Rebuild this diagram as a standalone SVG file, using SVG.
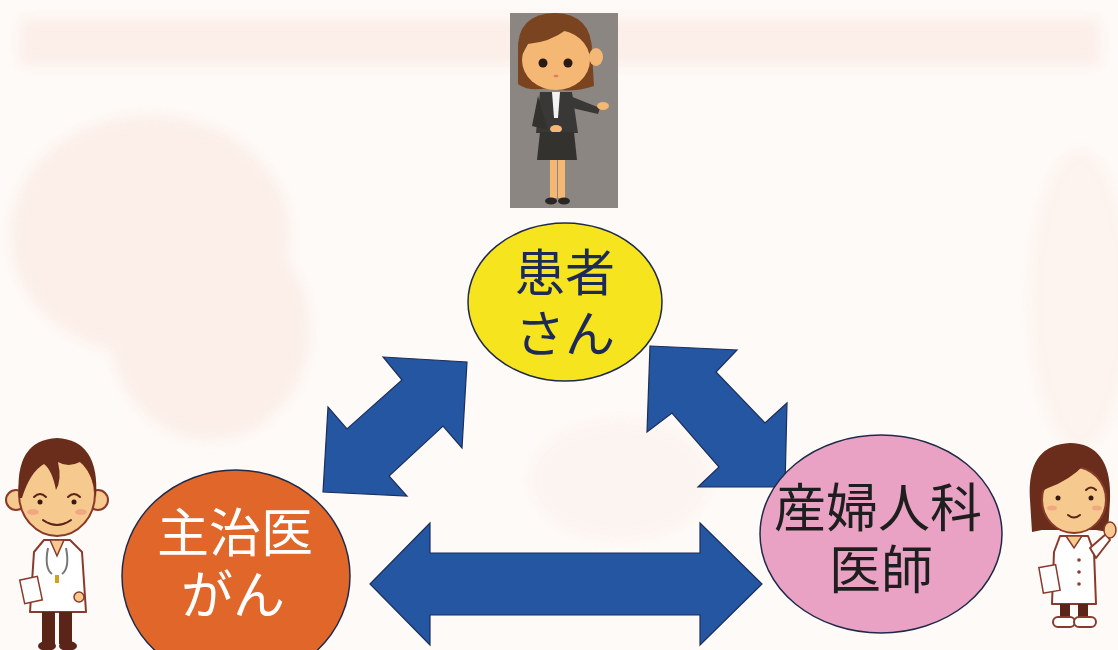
<svg xmlns="http://www.w3.org/2000/svg" width="1118" height="650" viewBox="0 0 1118 650">
  <defs>
    <style>
      .arrow { fill: #2456a2; stroke: #1b2f5c; stroke-width: 1.2; stroke-linejoin: miter; }
      .node-line { stroke: #1f2a4a; stroke-width: 1.5; }
      .label { font-family: "Noto Sans CJK JP", "Noto Sans CJK SC", sans-serif; font-size: 50px; text-anchor: middle; }
      .skin { fill: #f6c98e; }
      .hair { fill: #6a2d1c; }
      .outline { stroke: #5a2416; stroke-width: 2; fill: none; stroke-linecap: round; }
      .coat { fill: #ffffff; stroke: #8a3a2a; stroke-width: 2; stroke-linejoin: round; }
    </style>
    <filter id="haze" x="-20%" y="-20%" width="140%" height="140%">
      <feGaussianBlur stdDeviation="6"/>
    </filter>
  </defs>

  <!-- paper -->
  <rect x="0" y="0" width="1118" height="650" fill="#fefaf7"/>
  <g id="paper-tint" fill="#fbebe5" filter="url(#haze)" opacity="0.75">
    <rect x="20" y="18" width="1080" height="48" rx="6"/>
    <ellipse cx="150" cy="235" rx="140" ry="120"/>
    <ellipse cx="210" cy="330" rx="100" ry="110"/>
    <ellipse cx="1080" cy="300" rx="50" ry="150" opacity="0.6"/>
    <ellipse cx="620" cy="480" rx="90" ry="60" opacity="0.5"/>
  </g>

  <!-- presenter figure on grey panel -->
  <g id="presenter">
    <rect x="510" y="13" width="108" height="195" fill="#8b8682"/>
    <!-- hair back -->
    <path d="M518 52 Q516 14 555 13 Q592 14 592 52 L594 86 Q570 94 548 88 Q528 92 518 84 Z" fill="#7a4420"/>
    <ellipse cx="596" cy="57" rx="7" ry="9" fill="#f4b774"/>
    <ellipse cx="556" cy="60" rx="34" ry="30" fill="#f4b774"/>
    <path d="M522 55 Q524 20 556 18 Q588 20 592 48 Q580 35 566 30 Q550 42 528 44 Z" fill="#7a4420"/>
    <circle cx="543" cy="63" r="4.5" fill="#2a1a10"/>
    <circle cx="568" cy="63" r="4.5" fill="#2a1a10"/>
    <ellipse cx="556" cy="76" rx="2.5" ry="1.2" fill="#d98060"/>
    <!-- suit -->
    <path d="M540 92 L572 92 L578 133 L536 133 Z" fill="#3a3837"/>
    <path d="M552 92 L560 92 L558 118 L554 118 Z" fill="#f2f2f2"/>
    <path d="M570 96 L600 108 L598 114 L572 108 Z" fill="#3a3837"/>
    <ellipse cx="603" cy="106" rx="6" ry="4" fill="#f4b774"/>
    <path d="M538 96 L532 126 L548 130 Z" fill="#34322f"/>
    <ellipse cx="556" cy="129" rx="6" ry="4" fill="#f4b774"/>
    <path d="M540 132 L574 132 L577 160 L537 160 Z" fill="#34322f"/>
    <rect x="550" y="160" width="7" height="38" fill="#f4b774"/>
    <rect x="558" y="160" width="7" height="38" fill="#f4b774"/>
    <ellipse cx="551" cy="201" rx="6" ry="3.5" fill="#2a2624"/>
    <ellipse cx="564" cy="201" rx="6" ry="3.5" fill="#2a2624"/>
  </g>

  <!-- connectors -->
  <g id="connectors">
    <!-- 患者さん <-> 主治医 -->
    <polygon class="arrow" points="383,357 467,362 462,448 443,426 389,476 407,496 323,492 328,407 347,429 402,380"/>
    <!-- 患者さん <-> 産婦人科医師 -->
    <polygon class="arrow" points="650,346 737,350 716,372 765,423 787,403 785,487 698,487 719,467 672,413 647,432"/>
    <!-- 主治医 <-> 産婦人科医師 -->
    <polygon class="arrow" points="370,584 430,523 430,553 700,553 700,523 762,584 700,645 700,615 430,615 430,645"/>
  </g>

  <!-- patient node -->
  <g id="node-patient">
    <ellipse class="node-line" cx="565" cy="302" rx="97" ry="79" fill="#f6e41e"/>
    <text class="label" x="565" y="291" fill="#1c2a55">患者</text>
    <text class="label" x="565" y="352" fill="#1c2a55">さん</text>
  </g>

  <!-- attending physician node -->
  <g id="node-attending">
    <ellipse class="node-line" cx="236" cy="576" rx="114" ry="106" fill="#e0662a"/>
    <text class="label" x="235" y="552" fill="#ffffff" style="font-size:52px">主治医</text>
    <text class="label" x="233" y="614" fill="#ffffff" style="font-size:52px">がん</text>
  </g>

  <!-- obstetrician node -->
  <g id="node-obgyn">
    <ellipse class="node-line" cx="881" cy="534" rx="121" ry="99" fill="#eaa2c4"/>
    <text class="label" x="878" y="527" fill="#1e1e1e" style="font-size:52px">産婦人科</text>
    <text class="label" x="881" y="589" fill="#1e1e1e" style="font-size:52px">医師</text>
  </g>

  <!-- male doctor figure -->
  <g id="doctor-left">
    <circle cx="16" cy="500" r="10" class="skin" stroke="#8a3a2a" stroke-width="2"/>
    <circle cx="98" cy="500" r="10" class="skin" stroke="#8a3a2a" stroke-width="2"/>
    <ellipse cx="57" cy="494" rx="38" ry="42" class="skin" stroke="#8a3a2a" stroke-width="2"/>
    <path class="hair" d="M19 498 Q14 440 57 438 Q100 440 96 498 Q92 470 80 462 Q68 468 58 462 Q62 480 56 490 Q52 470 44 464 Q30 472 22 498 Z"/>
    <path class="outline" d="M34 497 Q40 491 46 497"/>
    <path class="outline" d="M68 497 Q74 491 80 497"/>
    <circle cx="40" cy="502" r="2.5" fill="#3a1a10"/>
    <circle cx="74" cy="502" r="2.5" fill="#3a1a10"/>
    <ellipse cx="33" cy="512" rx="6" ry="3" fill="#f0a080" opacity="0.8"/>
    <ellipse cx="81" cy="512" rx="6" ry="3" fill="#f0a080" opacity="0.8"/>
    <path class="outline" d="M43 520 Q57 530 71 520"/>
    <!-- coat -->
    <path class="coat" d="M44 540 L70 540 L82 552 L86 612 L30 612 L34 552 Z"/>
    <path d="M50 540 L57 556 L64 540 Z" fill="#f6c98e" stroke="#8a3a2a" stroke-width="1.5"/>
    <path d="M48 548 Q44 568 52 574 M66 548 Q70 568 62 574" stroke="#777" stroke-width="2" fill="none"/>
    <rect x="55" y="575" width="4" height="8" fill="#d4a020"/>
    <rect x="22" y="578" width="18" height="24" fill="#fff" stroke="#8a3a2a" stroke-width="1.5" transform="rotate(-12 31 590)"/>
    <circle cx="79" cy="597" r="5" class="skin" stroke="#8a3a2a" stroke-width="1.5"/>
    <rect x="42" y="612" width="13" height="32" fill="#5a2418"/>
    <rect x="59" y="612" width="13" height="32" fill="#5a2418"/>
    <ellipse cx="47" cy="646" rx="9" ry="5" fill="#5a2418"/>
    <ellipse cx="68" cy="646" rx="9" ry="5" fill="#5a2418"/>
  </g>

  <!-- female doctor figure -->
  <g id="doctor-right">
    <path class="hair" d="M1030 500 Q1026 445 1070 443 Q1112 444 1110 500 L1108 532 L1096 530 L1042 530 L1032 532 Z"/>
    <ellipse cx="1074" cy="500" rx="32" ry="33" class="skin" stroke="#8a3a2a" stroke-width="2"/>
    <path class="hair" d="M1040 492 Q1042 455 1072 452 Q1100 454 1107 490 Q1096 470 1084 465 Q1070 480 1048 488 Z"/>
    <path class="outline" d="M1086 490 Q1091 485 1096 490"/>
    <circle cx="1058" cy="498" r="2.5" fill="#3a1a10"/>
    <circle cx="1091" cy="498" r="2.5" fill="#3a1a10"/>
    <ellipse cx="1052" cy="508" rx="5" ry="2.5" fill="#f0a080" opacity="0.8"/>
    <ellipse cx="1097" cy="508" rx="5" ry="2.5" fill="#f0a080" opacity="0.8"/>
    <path class="outline" d="M1068 515 Q1074 520 1080 515"/>
    <!-- coat -->
    <path class="coat" d="M1060 536 L1088 536 L1094 552 L1096 604 L1052 604 L1054 552 Z"/>
    <path d="M1066 536 L1074 548 L1082 536 Z" fill="#f6c98e" stroke="#8a3a2a" stroke-width="1.5"/>
    <circle cx="1079" cy="560" r="1.8" fill="#8a3a2a"/>
    <circle cx="1079" cy="572" r="1.8" fill="#8a3a2a"/>
    <circle cx="1079" cy="584" r="1.8" fill="#8a3a2a"/>
    <path class="coat" d="M1090 548 L1106 534 L1110 540 L1096 558 Z"/>
    <ellipse cx="1110" cy="530" rx="6" ry="8" class="skin" stroke="#8a3a2a" stroke-width="1.5"/>
    <rect x="1041" y="566" width="17" height="26" fill="#fff" stroke="#8a3a2a" stroke-width="1.5" transform="rotate(-10 1049 579)"/>
    <rect x="1060" y="604" width="10" height="14" fill="#5a2418"/>
    <rect x="1078" y="604" width="10" height="14" fill="#5a2418"/>
    <rect x="1053" y="617" width="22" height="10" rx="5" fill="#fff" stroke="#8a3a2a" stroke-width="2"/>
    <rect x="1074" y="617" width="22" height="10" rx="5" fill="#fff" stroke="#8a3a2a" stroke-width="2"/>
  </g>
</svg>
